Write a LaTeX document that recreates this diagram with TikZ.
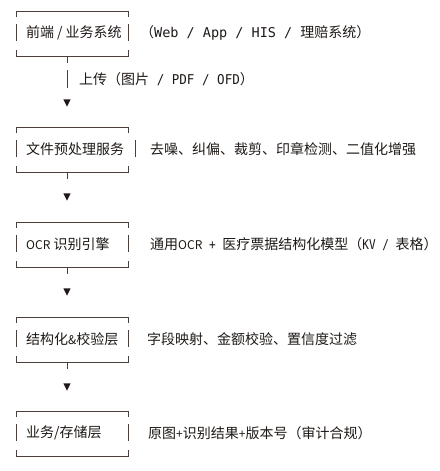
\documentclass[tikz,border=0pt]{standalone}
\usepackage{fontspec}
\setmainfont{Noto Sans CJK SC}
\newfontfamily\mono[FakeStretch=0.93]{DejaVu Sans Mono}
\newfontfamily\monon[FakeStretch=0.82]{DejaVu Sans Mono}
\newfontfamily\monow{DejaVu Sans Mono}
\definecolor{ink}{HTML}{1E1916}
\definecolor{rule}{HTML}{4A403B}
\tikzset{
  frame/.style={draw=rule, line width=0.9pt},
  txt/.style={anchor=west, inner sep=0pt, text=ink, font=\fontsize{14}{16}\selectfont},
  tip/.style={fill=ink},
}
\newcommand{\smlat}[1]{{\fontsize{12}{14}\selectfont #1}}
\newcommand{\mlat}[1]{{\mono\fontsize{13.5}{16}\selectfont #1}}
\newcommand{\mlatn}[1]{{\monon\fontsize{13.5}{16}\selectfont #1}}
\newcommand{\mlatw}[1]{{\monow\fontsize{13.5}{16}\selectfont #1}}
\begin{document}
\begin{tikzpicture}[x=1pt,y=-1pt]
\useasboundingbox (0,0) rectangle (439,471);
% boxes: top T, right side bar x
\foreach \T/\rx in {11/128, 127/135, 222/128, 317/128, 411/128}{
  \draw[frame] (16,\T+6) -- (16,\T) -- (128,\T) -- (128,\T+6);
  \draw[frame] (16,\T+13) -- (16,\T+30);
  \draw[frame] (\rx,\T+13) -- (\rx,\T+30);
  \draw[frame] (16,\T+39) -- (16,\T+45) -- (128,\T+45) -- (128,\T+39);
}
% box texts
\node[txt] (b1) at (26,33) {前端\kern3pt/\kern3pt业务系统};
\node[txt] (b2) at (26,149) {文件预处理服务};
\node[txt] (b3) at (26,244) {\smlat{OCR} 识别引擎};
\node[txt] (b4) at (26,339) {结构化\smlat{\&}校验层};
\node[txt] (b5) at (26,433) {业务/存储层};
% annotations
\node[txt] (n1) at (140,33) {（\mlatw{Web / App / HIS / }理赔系统）};
\node[txt] (n2) at (150,149) {去噪、纠偏、裁剪、印章检测、二值化增强};
\node[txt] (n3) at (150,244) {通用\smlat{OCR}\mlatn{ + }医疗票据结构化模型（\mlatn{KV / }表格）};
\node[txt] (n4) at (147,339) {字段映射、金额校验、置信度过滤};
\node[txt] (n5) at (148,433) {原图\smlat{+}识别结果\smlat{+}版本号（审计合规）};
% connector 1 with label
\coordinate (c1) at (67,56);
\draw[frame] (c1) -- ++(0,7);
\coordinate (l1) at (67,70);
\draw[frame] (l1) -- ++(0,18);
\node[txt] (u1) at (79,79) {上传（图片\mlat{ / PDF / OFD}）};
\coordinate (a1) at (67,103);
\fill[tip] (a1) ++(-3.6,-3.6) -- ++(7.2,0) -- ++(-3.6,7.2) -- cycle;
% other connectors
\foreach \B/\n in {172/2, 267/3, 362/4}{
  \coordinate (c\n) at (67,\B);
  \draw[frame] (c\n) -- ++(0,7);
  \coordinate (a\n) at (67,\B+25);
  \fill[tip] (a\n) ++(-3.6,-3.6) -- ++(7.2,0) -- ++(-3.6,7.2) -- cycle;
}
\end{tikzpicture}
\end{document}
